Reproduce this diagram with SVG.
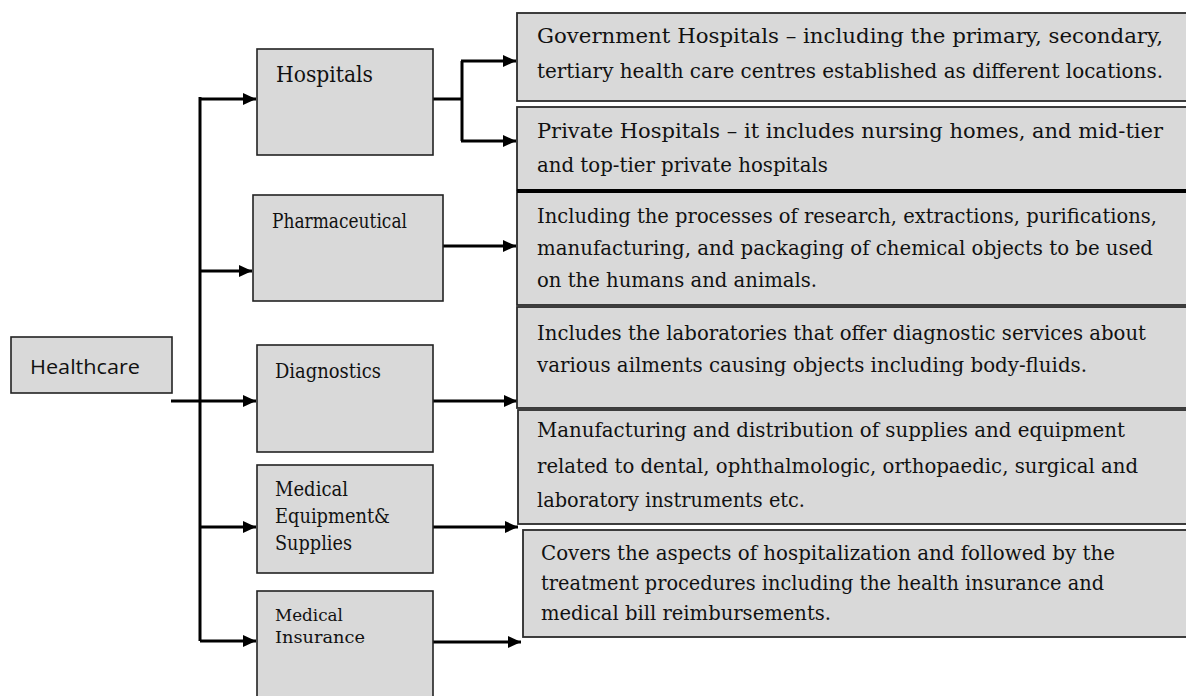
<svg xmlns="http://www.w3.org/2000/svg" width="1186" height="696" viewBox="0 0 1186 696">
<style>
.box{fill:#d9d9d9;stroke:#222;stroke-width:1.6}
.rbox{fill:#d9d9d9;stroke:#2a2a2a;stroke-width:1.8}
.lbl{font-family:"DejaVu Serif","Liberation Serif",serif;fill:#111}
.d1{font-family:"DejaVu Serif","Liberation Serif",serif;font-size:20px;fill:#111}
.d2{font-family:"DejaVu Serif","Liberation Serif",serif;font-size:20px;fill:#111}
.sans{font-family:"Open Sans","Liberation Sans",Arial,sans-serif;fill:#111}
.con{fill:none;stroke:#000;stroke-width:3}
</style>
<defs>
<marker id="ah" markerUnits="userSpaceOnUse" markerWidth="14" markerHeight="14" viewBox="0 0 14 14" refX="13" refY="7" orient="auto">
<path d="M0,1 L13,7 L0,13 Z" fill="#000"/>
</marker>
</defs>
<rect width="1186" height="696" fill="#fff"/>

<g id="connectors">
<path class="con" d="M200,97 V641"/>
<path class="con" d="M200,99 H256" marker-end="url(#ah)"/>
<path class="con" d="M200,271 H252" marker-end="url(#ah)"/>
<path class="con" d="M171,401 H256" marker-end="url(#ah)"/>
<path class="con" d="M200,527 H256" marker-end="url(#ah)"/>
<path class="con" d="M200,641 H256" marker-end="url(#ah)"/>
<path class="con" d="M433,99 H462"/>
<path class="con" d="M462,61 V141"/>
<path class="con" d="M461,61 H516" marker-end="url(#ah)"/>
<path class="con" d="M461,141 H516" marker-end="url(#ah)"/>
<path class="con" d="M443,246 H516" marker-end="url(#ah)"/>
<path class="con" d="M433,401 H517" marker-end="url(#ah)"/>
<path class="con" d="M433,527 H518" marker-end="url(#ah)"/>
<path class="con" d="M433,642 H521" marker-end="url(#ah)"/>
</g>

<g id="healthcare">
<rect class="box" x="11" y="337" width="161" height="56"/>
<text class="sans" x="30" y="374" font-size="20" textLength="110" lengthAdjust="spacingAndGlyphs">Healthcare</text>
</g>

<g id="hospitals">
<rect class="box" x="257" y="49" width="176" height="106"/>
<text class="lbl" x="276" y="82" font-size="22" textLength="97" lengthAdjust="spacingAndGlyphs">Hospitals</text>
</g>

<g id="pharmaceutical">
<rect class="box" x="253" y="195" width="190" height="106"/>
<text class="lbl" x="272" y="228" font-size="21" textLength="135" lengthAdjust="spacingAndGlyphs">Pharmaceutical</text>
</g>

<g id="diagnostics">
<rect class="box" x="257" y="345" width="176" height="107"/>
<text class="lbl" x="275" y="378" font-size="21" textLength="106" lengthAdjust="spacingAndGlyphs">Diagnostics</text>
</g>

<g id="medical-equipment">
<rect class="box" x="257" y="465" width="176" height="108"/>
<text class="lbl" x="275" y="496" font-size="21" textLength="73" lengthAdjust="spacingAndGlyphs">Medical</text>
<text class="lbl" x="275" y="523" font-size="21" textLength="115" lengthAdjust="spacingAndGlyphs">Equipment&amp;</text>
<text class="lbl" x="275" y="550" font-size="21" textLength="77" lengthAdjust="spacingAndGlyphs">Supplies</text>
</g>

<g id="medical-insurance">
<rect class="box" x="257" y="591" width="176" height="120"/>
<text class="lbl" x="275" y="621" font-size="17" textLength="68" lengthAdjust="spacingAndGlyphs">Medical</text>
<text class="lbl" x="275" y="643" font-size="17" textLength="90" lengthAdjust="spacingAndGlyphs">Insurance</text>
</g>

<g id="government-hospitals">
<rect class="rbox" x="517" y="13" width="690" height="88"/>
<text class="d1" x="537" y="43" textLength="626" lengthAdjust="spacingAndGlyphs">Government Hospitals – including the primary, secondary,</text>
<text class="d1" x="537" y="78" textLength="626" lengthAdjust="spacingAndGlyphs">tertiary health care centres established as different locations.</text>
</g>

<g id="private-hospitals">
<rect class="rbox" x="517" y="107" width="690" height="83"/>
<text class="d1" x="537" y="138" textLength="626" lengthAdjust="spacingAndGlyphs">Private Hospitals – it includes nursing homes, and mid-tier</text>
<text class="d1" x="537" y="172" textLength="291" lengthAdjust="spacingAndGlyphs">and top-tier private hospitals</text>
</g>

<g id="pharma-desc">
<rect class="rbox" x="517" y="191" width="690" height="114"/>
<path d="M517,191 H1186" stroke="#000" stroke-width="4"/>
<text class="d2" x="537" y="223" textLength="620" lengthAdjust="spacingAndGlyphs">Including the processes of research, extractions, purifications,</text>
<text class="d2" x="537" y="255" textLength="616" lengthAdjust="spacingAndGlyphs">manufacturing, and packaging of chemical objects to be used</text>
<text class="d2" x="537" y="287" textLength="280" lengthAdjust="spacingAndGlyphs">on the humans and animals.</text>
</g>

<g id="diagnostics-desc">
<rect class="rbox" x="517" y="307" width="690" height="101"/>
<text class="d2" x="537" y="340" textLength="609" lengthAdjust="spacingAndGlyphs">Includes the laboratories that offer diagnostic services  about</text>
<text class="d2" x="537" y="372" textLength="550" lengthAdjust="spacingAndGlyphs">various ailments causing objects including  body-fluids.</text>
</g>

<g id="equipment-desc">
<rect class="rbox" x="518" y="410" width="690" height="114"/>
<text class="d2" x="537" y="437" textLength="588" lengthAdjust="spacingAndGlyphs">Manufacturing and distribution of supplies  and equipment</text>
<text class="d2" x="537" y="473" textLength="601" lengthAdjust="spacingAndGlyphs">related to dental, ophthalmologic, orthopaedic, surgical and</text>
<text class="d2" x="537" y="507" textLength="268" lengthAdjust="spacingAndGlyphs">laboratory instruments etc.</text>
</g>

<g id="insurance-desc">
<rect class="rbox" x="523" y="530" width="690" height="107"/>
<text class="d2" x="541" y="560" textLength="574" lengthAdjust="spacingAndGlyphs">Covers the aspects of hospitalization and followed by the</text>
<text class="d2" x="541" y="590" textLength="563" lengthAdjust="spacingAndGlyphs">treatment procedures including the health insurance and</text>
<text class="d2" x="541" y="620" textLength="290" lengthAdjust="spacingAndGlyphs">medical bill  reimbursements.</text>
</g>
</svg>
